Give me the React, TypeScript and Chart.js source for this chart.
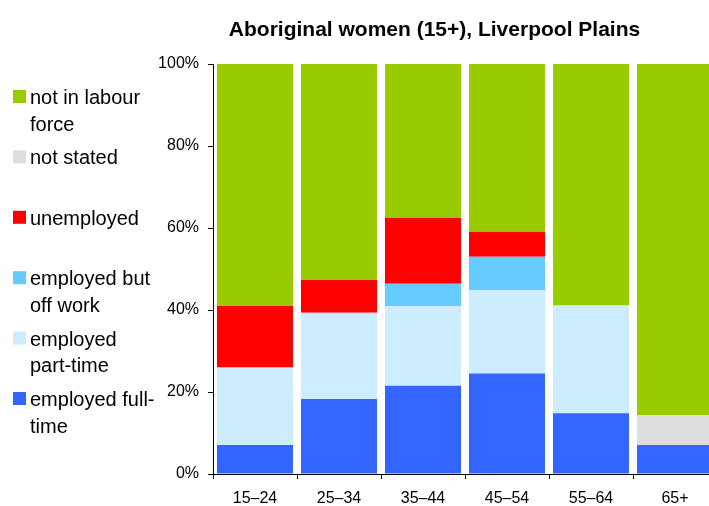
import React, { useEffect, useRef } from "react";
import { Chart, registerables } from "chart.js";

Chart.register(...registerables);

const TITLE = "Aboriginal women (15+), Liverpool Plains";
const categories = ["15–24", "25–34", "35–44", "45–54", "55–64", "65+"];

const fullTime = [7.1, 18.3, 21.5, 24.5, 14.8, 7.1];
const partTime = [18.9, 21.0, 19.5, 20.4, 26.3, 0];
const offWork = [0, 0, 5.4, 8.1, 0, 0];
const unemployed = [15.0, 8.0, 16.1, 6.1, 0, 0];
const notStated = [0, 0, 0, 0, 0, 7.2];
const notInLabour = [59.0, 52.7, 37.5, 40.9, 58.9, 85.7];

const yTicks = [0, 20, 40, 60, 80, 100];

// legend entries, top to bottom (lines of each label)
const legendLabels = [
  ["not in labour", "force"],
  ["not stated"],
  ["unemployed"],
  ["employed but", "off work"],
  ["employed", "part-time"],
  ["employed full-", "time"],
];
const legendColors = ["#99CC00", "#DDDDDD", "#FF0000", "#66CCFF", "#CCECFF", "#3366FF"];

const FONT = "'Liberation Sans', Arial, Helvetica, sans-serif";

const overlayPlugin = {
  id: "overlay",
  afterDraw(chart: any) {
    const ctx = chart.ctx;
    ctx.save();
    // title
    ctx.fillStyle = "#000";
    ctx.font = `bold 21px ${FONT}`;
    ctx.textAlign = "center";
    ctx.textBaseline = "alphabetic";
    ctx.fillText(TITLE, 434.5, 36);
    // legend
    ctx.font = `20px ${FONT}`;
    ctx.textAlign = "left";
    legendLabels.forEach((lines, i) => {
      const base = 104 + i * 60.4;
      ctx.fillStyle = legendColors[i];
      ctx.fillRect(13, base - 14, 13, 13);
      ctx.fillStyle = "#000";
      lines.forEach((line, j) => {
        ctx.fillText(line, 30, base + j * 26.7);
      });
    });
    ctx.restore();
  },
};

export default function App() {
  const ref = useRef<HTMLCanvasElement>(null);
  useEffect(() => {
    if (!ref.current) return;
    const mk = (label: string, data: number[], color: string) => ({
      label,
      data,
      backgroundColor: color,
      borderWidth: 0,
      barPercentage: 0.905,
      categoryPercentage: 1,
    });
    const chart = new Chart(ref.current, {
      type: "bar",
      data: {
        labels: categories,
        datasets: [
          mk("employed full-time", fullTime, "#3366FF"),
          mk("employed part-time", partTime, "#CCECFF"),
          mk("employed but off work", offWork, "#66CCFF"),
          mk("unemployed", unemployed, "#FF0000"),
          mk("not stated", notStated, "#DDDDDD"),
          mk("not in labour force", notInLabour, "#99CC00"),
        ],
      },
      options: {
        animation: false,
        responsive: false,
        devicePixelRatio: 1,
        layout: { padding: { top: 64, right: 13, left: 0, bottom: 0 } },
        plugins: {
          legend: { display: false },
          title: { display: false },
          tooltip: { enabled: false },
        },
        scales: {
          x: {
            stacked: true,
            grid: {
              drawOnChartArea: false,
              drawTicks: true,
              tickLength: 5,
              color: "#000",
              offset: true,
            },
            border: { display: true, color: "#000", width: 1 },
            ticks: {
              color: "#000",
              font: { family: FONT, size: 16 },
              padding: 10,
              maxRotation: 0,
            },
            afterFit(scale: any) {
              scale.height = 32;
            },
          },
          y: {
            stacked: true,
            min: 0,
            max: 100,
            afterBuildTicks(scale: any) {
              scale.ticks = yTicks.map((v) => ({ value: v }));
            },
            grid: {
              drawOnChartArea: false,
              drawTicks: true,
              tickLength: 5,
              color: "#000",
            },
            border: { display: true, color: "#000", width: 1 },
            ticks: {
              color: "#000",
              font: { family: FONT, size: 16 },
              padding: 9,
              callback: (v: any) => v + "%",
            },
            afterFit(scale: any) {
              scale.width = 213;
            },
          },
        },
      },
      plugins: [overlayPlugin],
    });
    return () => chart.destroy();
  }, []);
  return (
    <div
      style={{
        position: "fixed",
        left: 0,
        top: 0,
        width: 709,
        height: 506,
        overflow: "hidden",
        background: "#fff",
      }}
    >
      <canvas ref={ref} width={730} height={506} style={{ display: "block" }} />
    </div>
  );
}
